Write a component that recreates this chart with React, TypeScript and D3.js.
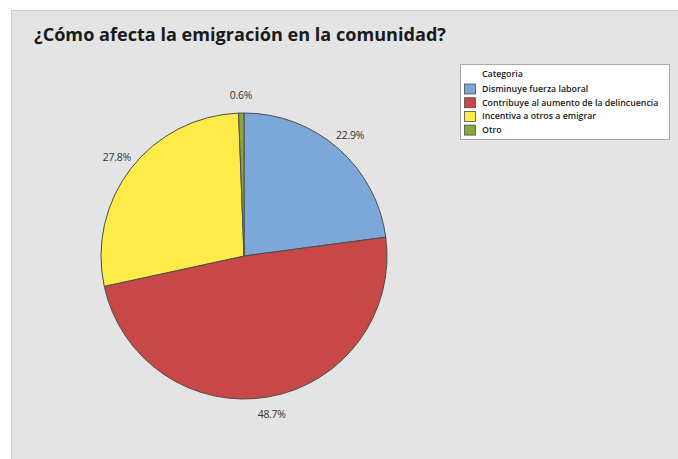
import React from "react";
import * as d3 from "d3";

const categories = [
  "Disminuye fuerza laboral",
  "Contribuye al aumento de la delincuencia",
  "Incentiva a otros a emigrar",
  "Otro",
];
const values = [22.9, 48.7, 27.8, 0.6];
const colors = ["#7CA7D9", "#C84747", "#FEEB48", "#8AA73A"];
const title = "¿Cómo afecta la emigración en la comunidad?";
const legendTitle = "Categoria";

export default function App() {
  const W = 678, H = 459;
  const cx = 244, cy = 256, R = 143;
  const pie = d3.pie<number>().sort(null).value((d) => d).startAngle(0).endAngle(2 * Math.PI);
  const arcs = pie(values);
  const arc = d3.arc<d3.PieArcDatum<number>>().innerRadius(0).outerRadius(R);
  const labelArc = d3.arc<d3.PieArcDatum<number>>().innerRadius(161).outerRadius(161);
  const font = "'Open Sans', 'Segoe UI', sans-serif";
  const legendY = d3.scaleLinear().domain([0, 1]).range([89, 102.7]);
  return (
    <svg width={W} height={H} style={{ position: "absolute", left: 0, top: 0 }} fontFamily={font}>
      <rect x={0} y={0} width={W} height={H} fill="#ffffff" />
      <rect x={11.5} y={10.5} width={W + 10} height={H + 10} fill="#e4e4e4" stroke="#cdcdcd" />
      <text x={34} y={41} fontSize={18} fontWeight={700} fill="#1a1a1a" textLength={412} lengthAdjust="spacingAndGlyphs">
        {title}
      </text>
      <g transform={`translate(${cx},${cy})`}>
        {arcs.map((a, i) => (
          <path key={i} d={arc(a) || ""} fill={colors[i]} stroke="#4d4d4d" strokeWidth={1} strokeLinejoin="round" />
        ))}
        {arcs.map((a, i) => {
          const [x, y] = labelArc.centroid(a);
          return (
            <text key={"l" + i} x={x} y={y} dy="0.35em" textAnchor="middle" fontSize={10.5} fill="#333" letterSpacing={-0.3}>
              {values[i].toFixed(1)}%
            </text>
          );
        })}
      </g>
      <g>
        <rect x={460.5} y={64.5} width={209} height={75} fill="#ffffff" stroke="#a8a8a8" />
        <text x={482} y={77} fontSize={8.8} fontWeight={600} fill="#1a1a1a">{legendTitle}</text>
        {categories.map((c, i) => (
          <g key={c}>
            <rect x={464.5} y={legendY(i) - 5} width={11} height={10} fill={colors[i]} stroke="#4d4d4d" strokeWidth={0.8} />
            <text x={482} y={legendY(i)} dy="0.35em" fontSize={8.8} fontWeight={600} fill="#1a1a1a">{c}</text>
          </g>
        ))}
      </g>
    </svg>
  );
}
